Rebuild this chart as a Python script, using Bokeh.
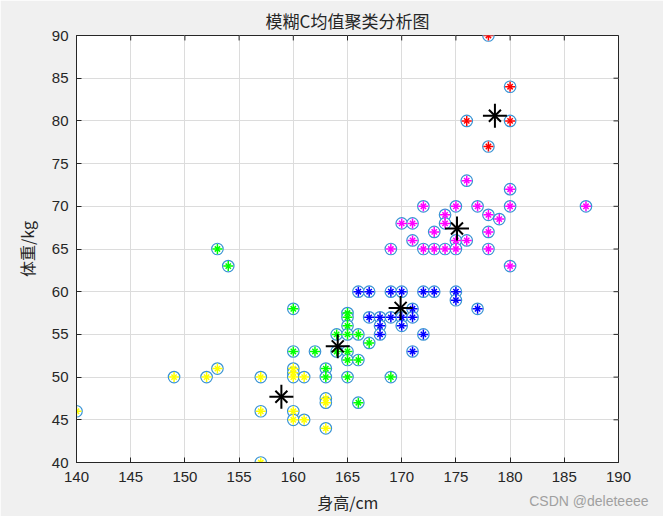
from bokeh.plotting import figure
from bokeh.models import Range1d, FixedTicker, Title
from bokeh.embed import file_html
from bokeh.resources import INLINE

# Cluster data (height cm, weight kg)
yellow_x = [140, 149, 152, 153, 157, 157, 157, 160, 160, 160, 161, 160, 160, 161, 163, 163, 163]
yellow_y = [46, 50, 50, 51, 50, 46, 40, 51, 50.5, 50, 50, 46, 45, 45, 47.5, 47, 44]

green_x = [153, 154, 160, 160, 162, 163, 163, 164, 164, 165, 165, 165, 165, 165, 165, 165, 166, 166, 166, 167, 169]
green_y = [65, 63, 58, 53, 53, 51, 50, 55, 53, 57.5, 57, 56, 55, 53, 52, 50, 55, 52, 47, 54, 50]

blue_x = [166, 167, 169, 170, 172, 173, 175, 175, 171, 177, 167, 168, 169, 170, 171, 168, 170, 168, 172, 171]
blue_y = [60, 60, 60, 60, 60, 60, 60, 59, 58, 58, 57, 57, 57, 57, 57, 56, 56, 55, 55, 53]

magenta_x = [176, 180, 172, 175, 177, 180, 187, 174, 178, 179, 170, 171, 174, 173, 178, 171, 175, 176, 169, 172, 173, 174, 175, 178, 180]
magenta_y = [73, 72, 70, 70, 70, 70, 70, 69, 69, 68.5, 68, 68, 68, 67, 67, 66, 66, 66, 65, 65, 65, 65, 65, 65, 63]

red_x = [178, 180, 176, 180, 178]
red_y = [90, 84, 80, 80, 77]

center_x = [158.9, 164.1, 169.9, 175.1, 178.6]
center_y = [47.7, 53.6, 58.1, 67.4, 80.6]

x_ticks = [140, 145, 150, 155, 160, 165, 170, 175, 180, 185, 190]
y_ticks = [40, 45, 50, 55, 60, 65, 70, 75, 80, 85, 90]

TXT = "#262626"
FONT = "Liberation Sans"
CJK = "Noto Sans CJK SC"

X0, X1, Y0, Y1 = 140, 190, 40, 90

p = figure(width=663, height=516, output_backend="svg", toolbar_location=None,
           x_range=Range1d(X0, X1), y_range=Range1d(Y0, Y1),
           min_border_left=76, min_border_right=45, min_border_top=35, min_border_bottom=53)
p.background_fill_color = "white"
p.border_fill_color = "#f0f0f0"
p.outline_line_color = TXT
p.outline_line_width = 1

p.title = Title(text="模糊C均值聚类分析图", align="center", text_font=CJK,
                text_font_size="17px", text_font_style="normal", text_color=TXT,
                standoff=5)

for ax in (p.xaxis[0], p.yaxis[0]):
    ax.major_tick_in = 5
    ax.major_tick_out = 0
    ax.minor_tick_in = 0
    ax.minor_tick_out = 0
    ax.major_label_text_font = FONT
    ax.major_label_text_font_size = "15px"
    ax.major_label_text_color = TXT
    ax.axis_line_color = TXT
    ax.major_tick_line_color = TXT
    ax.axis_label_text_font = CJK
    ax.axis_label_text_font_size = "16px"
    ax.axis_label_text_font_style = "normal"
    ax.axis_label_text_color = TXT

p.xaxis[0].ticker = FixedTicker(ticks=x_ticks)
p.yaxis[0].ticker = FixedTicker(ticks=y_ticks)
p.xaxis[0].axis_label = "身高/cm"
p.yaxis[0].axis_label = "体重/kg"
p.xaxis[0].major_label_standoff = 9
p.xaxis[0].axis_label_standoff = 5
p.yaxis[0].major_label_standoff = 8
p.yaxis[0].axis_label_standoff = 10

p.xgrid.ticker = FixedTicker(ticks=x_ticks)
p.ygrid.ticker = FixedTicker(ticks=y_ticks)
p.xgrid.grid_line_color = "#dcdcdc"
p.ygrid.grid_line_color = "#dcdcdc"

# box ticks on top and right edges (inward, ~5px)
p.segment(x0=x_ticks, y0=[Y1] * len(x_ticks), x1=x_ticks, y1=[Y1 - 0.58] * len(x_ticks),
          line_color=TXT, line_width=1)
p.segment(x0=[X1] * len(y_ticks), y0=y_ticks, x1=[X1 - 0.46] * len(y_ticks), y1=y_ticks,
          line_color=TXT, line_width=1)

RING = "#3a94d4"
groups = [
    (yellow_x, yellow_y, "#ffff00"),
    (green_x, green_y, "#00ff00"),
    (blue_x, blue_y, "#0000ff"),
    (magenta_x, magenta_y, "#ff00ff"),
    (red_x, red_y, "#ff0000"),
]
for xs, ys, col in groups:
    p.scatter(xs, ys, marker="circle", size=11.5, fill_color="white", line_color=RING, line_width=1.2)
    p.scatter(xs, ys, marker="cross", size=10, line_color=col, line_width=1.5)
    p.scatter(xs, ys, marker="x", size=7.5, line_color=col, line_width=1.5)

p.scatter(center_x, center_y, marker="cross", size=24, line_color="black", line_width=2)
p.scatter(center_x, center_y, marker="x", size=17, line_color="black", line_width=2)

wm = Title(text="CSDN @deleteeee", align="right", vertical_align="top", offset=-30,
           standoff=-48, text_font=FONT, text_font_size="14px", text_font_style="normal",
           text_color="#a0a0a0")
p.add_layout(wm, "below")

open("out.html", "w").write(file_html(p, INLINE))
